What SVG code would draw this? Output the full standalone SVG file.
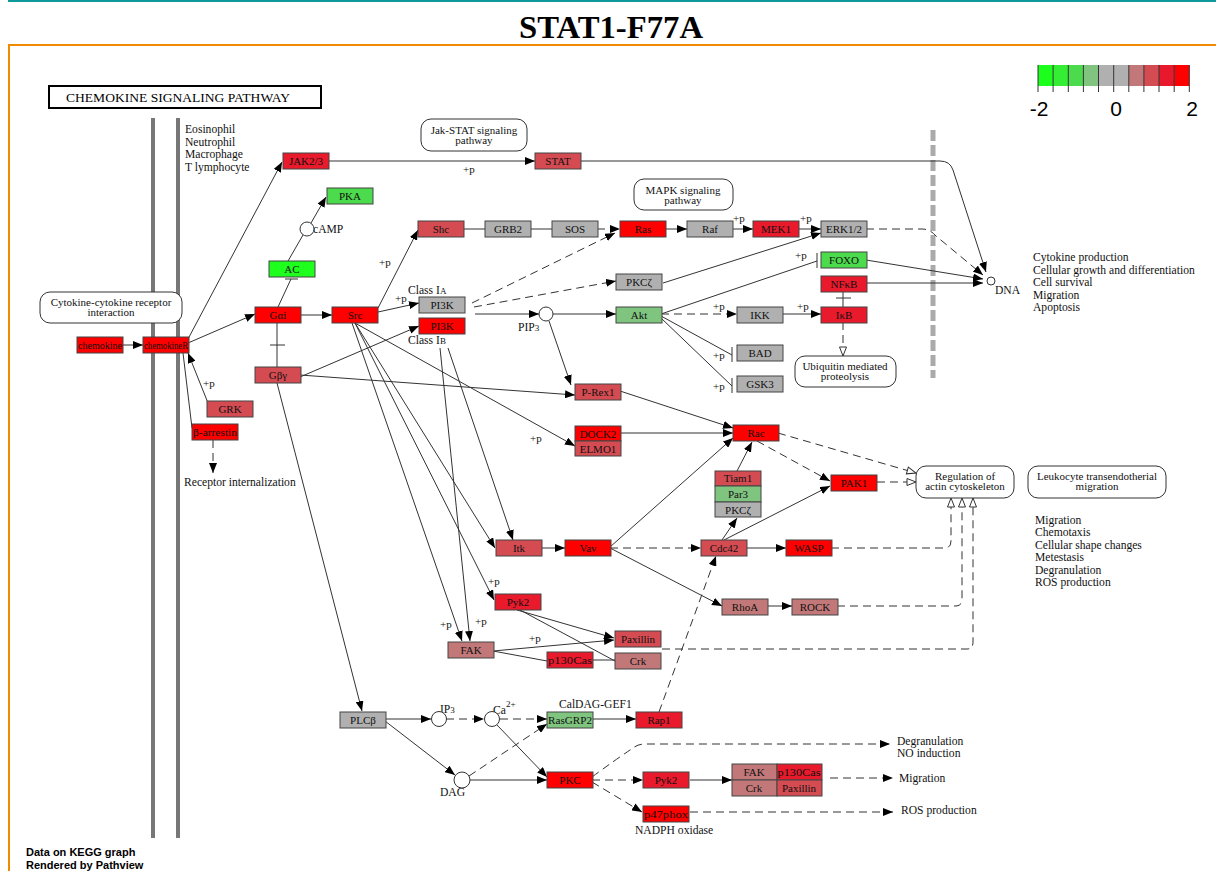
<svg xmlns="http://www.w3.org/2000/svg" width="1216" height="871" viewBox="0 0 1216 871">
<defs>
<marker id="a" viewBox="0 0 10 8" refX="10" refY="4" markerWidth="10" markerHeight="8" markerUnits="userSpaceOnUse" orient="auto"><path d="M0,0 L10,4 L0,8 z" fill="#000"/></marker>
<marker id="o" viewBox="0 0 11 9" refX="10" refY="4.5" markerWidth="11" markerHeight="9" markerUnits="userSpaceOnUse" orient="auto"><path d="M1,1 L10,4.5 L1,8 z" fill="#fff" stroke="#333" stroke-width="1"/></marker>
</defs>
<style>
.n rect{stroke:#444;stroke-width:1}
.n text,.t{font-family:"Liberation Serif",serif;font-size:11px;fill:#111}
.n text{text-anchor:middle}
.d{font-family:"Liberation Serif",serif;font-size:11.6px;fill:#111}
.rb{fill:#fff;stroke:#333;stroke-width:1}
.rb2{font-family:"Liberation Serif",serif;font-size:11px;fill:#111;text-anchor:middle}
.e path{fill:none;stroke:#333;stroke-width:1}
.e .ds{stroke-dasharray:8,5}
.e .ar{marker-end:url(#a)}
.e .op{marker-end:url(#o)}
.R{fill:#FF0000}.R2{fill:#E81A2C}.R3{fill:#D44B52}.R4{fill:#C27878}.G0{fill:#B0B0B0}.G4{fill:#7FC47F}.G3{fill:#4CDB4C}.G1{fill:#1EFF1E}
.lg{font-family:"Liberation Sans",sans-serif;font-size:21px;fill:#000;text-anchor:middle}
.ft{font-family:"Liberation Sans",sans-serif;font-size:11px;font-weight:bold;fill:#000}
</style>
<rect width="1216" height="871" fill="#fff"/>
<line x1="8" y1="1" x2="1216" y2="1" stroke="#0E9A9A" stroke-width="2"/>
<text x="611" y="38" text-anchor="middle" font-family="Liberation Serif,serif" font-weight="bold" font-size="31px" textLength="184" lengthAdjust="spacingAndGlyphs">STAT1-F77A</text>
<path d="M9,871 V45 H1216" fill="none" stroke="#F08A00" stroke-width="2"/>

<g id="legend">
<rect x="1038" y="65" width="15.13" height="21" fill="#1CFF1C"/>
<rect x="1053.13" y="65" width="15.13" height="21" fill="#33EE33"/>
<rect x="1068.26" y="65" width="15.13" height="21" fill="#4CDB4C"/>
<rect x="1083.39" y="65" width="15.13" height="21" fill="#80C480"/>
<rect x="1098.52" y="65" width="15.13" height="21" fill="#B0B0B0"/>
<rect x="1113.65" y="65" width="15.13" height="21" fill="#B0B0B0"/>
<rect x="1128.78" y="65" width="15.13" height="21" fill="#C27878"/>
<rect x="1143.91" y="65" width="15.13" height="21" fill="#D44B52"/>
<rect x="1159.04" y="65" width="15.13" height="21" fill="#E8192C"/>
<rect x="1174.17" y="65" width="15.13" height="21" fill="#FF0000"/>
<path d="M1038,65V92M1053.1,65V92M1068.3,65V92M1083.4,65V92M1098.5,65V92M1113.7,65V92M1128.8,65V92M1143.9,65V92M1159,65V92M1174.2,65V92M1189.3,65V92" stroke="#333" stroke-width="1"/>
<text class="lg" x="1039" y="116">-2</text>
<text class="lg" x="1116" y="116">0</text>
<text class="lg" x="1192" y="116">2</text>
</g>

<g id="background">
<rect x="49" y="86" width="272" height="22" fill="#fff" stroke="#000" stroke-width="2"/>
<text x="66" y="102" font-family="Liberation Serif,serif" font-size="12px" textLength="224" lengthAdjust="spacingAndGlyphs">CHEMOKINE  SIGNALING  PATHWAY</text>
<line x1="153" y1="118" x2="153" y2="838" stroke="#777" stroke-width="4"/>
<line x1="178" y1="118" x2="178" y2="838" stroke="#777" stroke-width="4"/>
<line x1="933" y1="130" x2="933" y2="378" stroke="#AAA" stroke-width="5" stroke-dasharray="11,4"/>
<text class="d" x="185" y="133">Eosinophil</text>
<text class="d" x="185" y="146">Neutrophil</text>
<text class="d" x="185" y="158">Macrophage</text>
<text class="d" x="185" y="171">T lymphocyte</text>
<text class="d" x="184" y="486">Receptor internalization</text>
<text class="d" x="1033" y="261">Cytokine production</text>
<text class="d" x="1033" y="274">Cellular growth and differentiation</text>
<text class="d" x="1033" y="286">Cell survival</text>
<text class="d" x="1033" y="299">Migration</text>
<text class="d" x="1033" y="311">Apoptosis</text>
<text class="d" x="1035" y="524">Migration</text>
<text class="d" x="1035" y="536">Chemotaxis</text>
<text class="d" x="1035" y="549">Cellular shape changes</text>
<text class="d" x="1035" y="561">Metestasis</text>
<text class="d" x="1035" y="574">Degranulation</text>
<text class="d" x="1035" y="586">ROS production</text>
<text class="d" x="897" y="745">Degranulation</text>
<text class="d" x="897" y="757">NO induction</text>
<text class="d" x="899" y="782">Migration</text>
<text class="d" x="901" y="814">ROS production</text>
<text class="d" x="635" y="834">NADPH oxidase</text>
<text class="d" x="559" y="708">CalDAG-GEF1</text>
<text class="d" x="408" y="294">Class I<tspan font-size="9px">A</tspan></text>
<text class="d" x="408" y="344">Class I<tspan font-size="9px">B</tspan></text>
<text class="d" x="313" y="233">cAMP</text>
<text class="d" x="518" y="331">PIP<tspan font-size="9px">3</tspan></text>
<text class="d" x="440" y="713">IP<tspan font-size="9px">3</tspan></text>
<text class="d" x="493" y="714">Ca<tspan font-size="9px" dy="-7">2+</tspan></text>
<text class="d" x="440" y="796">DAG</text>
<text class="d" x="995" y="294">DNA</text>
<text class="ft" x="26" y="856">Data on KEGG graph</text>
<text class="ft" x="26" y="869">Rendered by Pathview</text>
</g>

<g id="maps">
<g id="map-jakstat"><rect class="rb" x="421" y="119" width="106" height="32" rx="10"/><text class="rb2" x="474" y="134">Jak-STAT signaling</text><text class="rb2" x="474" y="144">pathway</text></g>
<g id="map-mapk"><rect class="rb" x="634" y="179" width="99" height="31" rx="10"/><text class="rb2" x="683" y="194">MAPK signaling</text><text class="rb2" x="683" y="204">pathway</text></g>
<g id="map-cytokine"><rect class="rb" x="40" y="292" width="142" height="31" rx="10"/><text class="rb2" x="111" y="306">Cytokine-cytokine receptor</text><text class="rb2" x="111" y="316">interaction</text></g>
<g id="map-ubiquitin"><rect class="rb" x="795" y="356" width="101" height="31" rx="10"/><text class="rb2" x="845" y="370">Ubiquitin mediated</text><text class="rb2" x="845" y="380">proteolysis</text></g>
<g id="map-actin"><rect class="rb" x="916" y="466" width="98" height="32" rx="10"/><text class="rb2" x="965" y="480">Regulation of</text><text class="rb2" x="965" y="490">actin cytoskeleton</text></g>
<g id="map-leuko"><rect class="rb" x="1028" y="466" width="138" height="32" rx="10"/><text class="rb2" x="1097" y="480">Leukocyte transendotherial</text><text class="rb2" x="1097" y="490">migration</text></g>
</g>

<g id="compounds" fill="#fff" stroke="#333" stroke-width="1">
<circle id="cAMP" cx="307" cy="229" r="7"/>
<circle id="PIP3" cx="546" cy="314" r="7"/>
<circle id="IP3" cx="439" cy="719" r="7.5"/>
<circle id="Ca" cx="492" cy="719" r="7.5"/>
<circle id="DAG" cx="462" cy="780" r="8"/>
<circle id="DNA" cx="991" cy="281" r="4"/>
</g>

<g id="connectors" class="e">
<path class="ar" d="M329,161 H535"/>
<path class="ar" d="M581,161 H940 Q950,161 953,170 L986,272"/>
<path class="ds ar" d="M866,229 H922 Q930,229 936,236 L983,275"/>
<path class="ar" d="M866,260 L983,279"/>
<path class="ar" d="M866,283 L983,283"/>
<path class="ar" d="M122,345 H143"/>
<path class="ar" d="M188,339 L282,162"/>
<path class="ar" d="M188,343 L255,314"/>
<path class="ar" d="M208,403 L188,353"/>
<path d="M183,353 L192,428"/>
<path class="ds ar" d="M213,440 V473"/>
<path d="M278,307 L291,279 M285,279 H298"/>
<path d="M288,261 L303,235"/>
<path class="ar" d="M311,223 L326,197"/>
<path d="M277,323 V367 M270,345 H285"/>
<path class="ar" d="M300,315 H332"/>
<path class="ar" d="M378,308 L418,230"/>
<path class="ar" d="M378,312 L419,303"/>
<path class="ar" d="M300,377 L419,326"/>
<path class="ar" d="M300,375 L575,395"/>
<path class="ar" d="M355,323 L575,446"/>
<path class="ar" d="M355,323 L495,548"/>
<path class="ar" d="M355,323 L494,600"/>
<path class="ar" d="M352,323 L462,641"/>
<path class="ar" d="M440,348 L470,641"/>
<path class="ar" d="M448,348 L513,540"/>
<path class="ar" d="M277,383 L362,711"/>
<path class="ar" d="M475,314 H539"/>
<path class="ar" d="M553,314 H616"/>
<path class="ar" d="M549,321 L571,385"/>
<path class="ds ar" d="M472,303 L615,233"/>
<path class="ds ar" d="M474,307 L616,281"/>
<path d="M464,229 H485 M530,229 H552"/>
<path class="ds ar" d="M597,229 H620"/>
<path class="ar" d="M665,229 H687"/>
<path class="ar" d="M732,229 H753"/>
<path class="ar" d="M799,229 H821"/>
<path class="ar" d="M663,283 L821,233"/>
<path d="M661,314 L817,261 M817,253 V268"/>
<path class="ds ar" d="M661,314 H737"/>
<path class="ar" d="M783,314 H821"/>
<path d="M661,316 L732,355 M732,347 V362"/>
<path d="M661,318 L732,386 M732,378 V393"/>
<path d="M843,292 V307 M836,298 H851"/>
<path class="ds op" d="M843,322 V356"/>
<path class="ar" d="M620,391 L733,428"/>
<path class="ar" d="M620,433 H733"/>
<path class="ar" d="M610,547 L733,438"/>
<path class="ar" d="M737,471 L752,442"/>
<path class="ds ar" d="M757,441 L830,481"/>
<path class="ds op" d="M778,433 L916,473"/>
<path class="ds op" d="M877,482 H916"/>
<path class="ar" d="M722,540 L737,518"/>
<path class="ar" d="M724,540 L830,486"/>
<path class="ar" d="M746,548 H786"/>
<path class="ds ar" d="M610,548 H701"/>
<path class="ar" d="M610,548 L722,606"/>
<path class="ar" d="M767,606 H792"/>
<path class="ds op" d="M831,548 H945 Q951,548 951,541 V498"/>
<path class="ds op" d="M837,606 H956 Q962,606 962,599 V498"/>
<path class="ds op" d="M662,649 H967 Q973,649 973,642 V498"/>
<path class="ar" d="M541,548 H565"/>
<path class="ar" d="M517,610 L614,638"/>
<path d="M520,610 L615,661"/>
<path class="ar" d="M493,651 L614,640"/>
<path d="M493,651 L547,661 M592,660 H615"/>
<path class="ar" d="M385,719 H431"/>
<path class="ds ar" d="M446,719 H484"/>
<path class="ds ar" d="M500,719 H547"/>
<path class="ar" d="M497,725 L547,777"/>
<path class="ar" d="M385,721 L455,775"/>
<path class="ds ar" d="M469,776 L547,724"/>
<path class="ar" d="M470,780 H547"/>
<path class="ar" d="M592,719 H636"/>
<path class="ds ar" d="M659,712 L716,556"/>
<path class="ds ar" d="M592,777 Q615,760 633,748 Q638,744 645,744 H890"/>
<path class="ds ar" d="M592,780 H643"/>
<path class="ds ar" d="M592,782 L642,812"/>
<path class="ar" d="M690,780 H732"/>
<path class="ds ar" d="M830,778 H893"/>
<path class="ds ar" d="M690,812 H893"/>
</g>

<g id="plabels">
<text class="t" x="463" y="173">+p</text>
<text class="t" x="379" y="266">+p</text>
<text class="t" x="395" y="302">+p</text>
<text class="t" x="733" y="222">+p</text>
<text class="t" x="800" y="222">+p</text>
<text class="t" x="795" y="259">+p</text>
<text class="t" x="713" y="310">+p</text>
<text class="t" x="797" y="310">+p</text>
<text class="t" x="713" y="359">+p</text>
<text class="t" x="713" y="390">+p</text>
<text class="t" x="203" y="387">+p</text>
<text class="t" x="530" y="442">+p</text>
<text class="t" x="488" y="585">+p</text>
<text class="t" x="440" y="628">+p</text>
<text class="t" x="475" y="625">+p</text>
<text class="t" x="529" y="642">+p</text>
</g>

<g id="JAK23" class="n"><rect class="R2" x="283" y="153" width="46" height="16"/><text x="306" y="165">JAK2/3</text></g>
<g id="PKA" class="n"><rect class="G3" x="327" y="188" width="46" height="16"/><text x="350" y="200">PKA</text></g>
<g id="STAT" class="n"><rect class="R3" x="535" y="153" width="46" height="16"/><text x="558" y="165">STAT</text></g>
<g id="Shc" class="n"><rect class="R3" x="418" y="221" width="46" height="16"/><text x="441" y="233">Shc</text></g>
<g id="GRB2" class="n"><rect class="G0" x="485" y="221" width="46" height="16"/><text x="508" y="233">GRB2</text></g>
<g id="SOS" class="n"><rect class="G0" x="552" y="221" width="46" height="16"/><text x="575" y="233">SOS</text></g>
<g id="Ras" class="n"><rect class="R" x="620" y="221" width="46" height="16"/><text x="643" y="233">Ras</text></g>
<g id="Raf" class="n"><rect class="G0" x="687" y="221" width="46" height="16"/><text x="710" y="233">Raf</text></g>
<g id="MEK1" class="n"><rect class="R2" x="753" y="221" width="46" height="16"/><text x="776" y="233">MEK1</text></g>
<g id="ERK12" class="n"><rect class="G0" x="821" y="221" width="46" height="16"/><text x="844" y="233">ERK1/2</text></g>
<g id="FOXO" class="n"><rect class="G3" x="821" y="252" width="46" height="16"/><text x="844" y="264">FOXO</text></g>
<g id="NFkB" class="n"><rect class="R2" x="821" y="276" width="46" height="16"/><text x="844" y="288">NFκB</text></g>
<g id="IkB" class="n"><rect class="R2" x="821" y="307" width="46" height="16"/><text x="844" y="319">IκB</text></g>
<g id="PKCz1" class="n"><rect class="G0" x="616" y="274" width="46" height="16"/><text x="639" y="286">PKCζ</text></g>
<g id="AC" class="n"><rect class="G1" x="269" y="261" width="46" height="16"/><text x="292" y="273">AC</text></g>
<g id="PI3K-IA" class="n"><rect class="G0" x="419" y="297" width="46" height="16"/><text x="442" y="309">PI3K</text></g>
<g id="PI3K-IB" class="n"><rect class="R" x="419" y="318" width="46" height="16"/><text x="442" y="330">PI3K</text></g>
<g id="Gai" class="n"><rect class="R" x="255" y="307" width="46" height="16"/><text x="278" y="319">Gαi</text></g>
<g id="Src" class="n"><rect class="R" x="332" y="307" width="46" height="16"/><text x="355" y="319">Src</text></g>
<g id="Akt" class="n"><rect class="G4" x="616" y="307" width="46" height="16"/><text x="639" y="319">Akt</text></g>
<g id="IKK" class="n"><rect class="G0" x="737" y="307" width="46" height="16"/><text x="760" y="319">IKK</text></g>
<g id="BAD" class="n"><rect class="G0" x="737" y="345" width="46" height="16"/><text x="760" y="357">BAD</text></g>
<g id="GSK3" class="n"><rect class="G0" x="737" y="376" width="46" height="16"/><text x="760" y="388">GSK3</text></g>
<g id="chemokine" class="n"><rect class="R" x="77" y="337" width="46" height="16"/><text x="100" y="349" textLength="44" lengthAdjust="spacingAndGlyphs">chemokine</text></g>
<g id="chemokineR" class="n"><rect class="R" x="143" y="337" width="46" height="16"/><text x="166" y="349" textLength="44" lengthAdjust="spacingAndGlyphs">chemokineR</text></g>
<g id="Gby" class="n"><rect class="R3" x="255" y="367" width="46" height="16"/><text x="278" y="379">Gβγ</text></g>
<g id="GRK" class="n"><rect class="R3" x="207" y="401" width="46" height="16"/><text x="230" y="413">GRK</text></g>
<g id="b-arrestin" class="n"><rect class="R" x="192" y="424" width="46" height="16"/><text x="215" y="436" textLength="44" lengthAdjust="spacingAndGlyphs">β-arrestin</text></g>
<g id="P-Rex1" class="n"><rect class="R3" x="575" y="384" width="46" height="16"/><text x="598" y="396">P-Rex1</text></g>
<g id="DOCK2" class="n"><rect class="R" x="575" y="426" width="46" height="15"/><text x="598" y="438">DOCK2</text><rect class="R3" x="575" y="441" width="46" height="15"/><text x="598" y="453">ELMO1</text></g>
<g id="Rac" class="n"><rect class="R" x="733" y="425" width="46" height="16"/><text x="756" y="437">Rac</text></g>
<g id="Tiam1" class="n"><rect class="R3" x="715" y="471" width="46" height="15"/><text x="738" y="482">Tiam1</text><rect class="G4" x="715" y="486" width="46" height="16"/><text x="738" y="498">Par3</text><rect class="G0" x="715" y="502" width="46" height="15"/><text x="738" y="514">PKCζ</text></g>
<g id="PAK1" class="n"><rect class="R" x="831" y="475" width="46" height="16"/><text x="854" y="487">PAK1</text></g>
<g id="Itk" class="n"><rect class="R3" x="496" y="540" width="46" height="16"/><text x="519" y="552">Itk</text></g>
<g id="Vav" class="n"><rect class="R" x="565" y="540" width="46" height="16"/><text x="588" y="552">Vav</text></g>
<g id="Cdc42" class="n"><rect class="R3" x="701" y="540" width="46" height="16"/><text x="724" y="552">Cdc42</text></g>
<g id="WASP" class="n"><rect class="R" x="786" y="540" width="46" height="16"/><text x="809" y="552">WASP</text></g>
<g id="Pyk2" class="n"><rect class="R2" x="495" y="594" width="46" height="16"/><text x="518" y="606">Pyk2</text></g>
<g id="RhoA" class="n"><rect class="R4" x="722" y="599" width="46" height="16"/><text x="745" y="611">RhoA</text></g>
<g id="ROCK" class="n"><rect class="R4" x="792" y="599" width="46" height="16"/><text x="815" y="611">ROCK</text></g>
<g id="Paxillin" class="n"><rect class="R3" x="615" y="631" width="46" height="16"/><text x="638" y="643">Paxillin</text></g>
<g id="FAK" class="n"><rect class="R4" x="448" y="642" width="46" height="16"/><text x="471" y="654">FAK</text></g>
<g id="p130Cas" class="n"><rect class="R2" x="547" y="652" width="46" height="16"/><text x="570" y="664" textLength="44" lengthAdjust="spacingAndGlyphs">p130Cas</text></g>
<g id="Crk" class="n"><rect class="R4" x="615" y="653" width="46" height="16"/><text x="638" y="665">Crk</text></g>
<g id="PLCb" class="n"><rect class="G0" x="340" y="712" width="46" height="16"/><text x="363" y="724">PLCβ</text></g>
<g id="RasGRP2" class="n"><rect class="G4" x="547" y="712" width="46" height="16"/><text x="570" y="724" textLength="44" lengthAdjust="spacingAndGlyphs">RasGRP2</text></g>
<g id="Rap1" class="n"><rect class="R2" x="636" y="712" width="46" height="16"/><text x="659" y="724">Rap1</text></g>
<g id="PKC" class="n"><rect class="R" x="547" y="772" width="46" height="16"/><text x="570" y="784">PKC</text></g>
<g id="Pyk2b" class="n"><rect class="R2" x="643" y="772" width="46" height="16"/><text x="666" y="784">Pyk2</text></g>
<g id="FAKgrid" class="n"><rect class="R4" x="732" y="764" width="45" height="16"/><text x="754" y="776">FAK</text><rect class="R2" x="777" y="764" width="45" height="16"/><text x="799" y="776" textLength="43" lengthAdjust="spacingAndGlyphs">p130Cas</text><rect class="R4" x="732" y="780" width="45" height="16"/><text x="754" y="792">Crk</text><rect class="R3" x="777" y="780" width="45" height="16"/><text x="799" y="792">Paxillin</text></g>
<g id="p47phox" class="n"><rect class="R" x="643" y="806" width="46" height="16"/><text x="666" y="818" textLength="44" lengthAdjust="spacingAndGlyphs">p47phox</text></g>
</svg>
